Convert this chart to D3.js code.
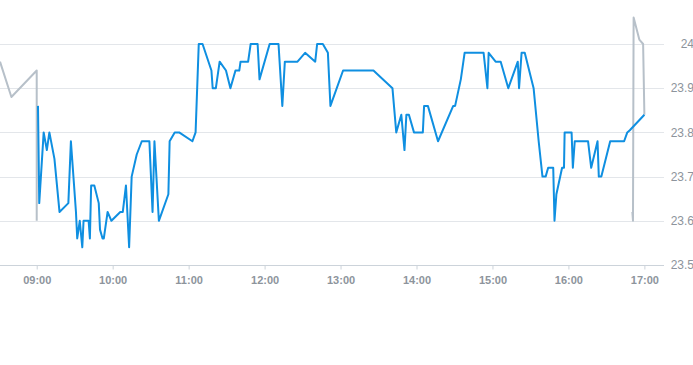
<!DOCTYPE html>
<html>
<head>
<meta charset="utf-8">
<script src="https://cdn.jsdelivr.net/npm/d3@7"></script>
<style>
  body { margin: 0; background: #fff; }
  svg { display: block; font-family: "Liberation Sans", Arial, sans-serif; }
</style>
</head>
<body>
<svg id="chart" width="693" height="365"></svg>
<script>
// pre-market and after-hours prints (grey)
const preTimes = ["08:31", "08:40", "09:00", "09:00"];
const preValues = [23.96, 23.88, 23.94, 23.60];
const postTimes = ["16:50.5", "16:51", "16:51.5", "16:56", "16:59", "17:00"];
const postValues = [23.62, 23.60, 24.06, 24.01, 24.00, 23.84];

// regular session (blue)
const sessionTimes = [
  "09:01", "09:02", "09:05.5", "09:08", "09:10", "09:14", "09:18", "09:25", "09:27", "09:31",
  "09:32", "09:34", "09:36", "09:37", "09:41", "09:42", "09:43", "09:45.5", "09:49", "09:50",
  "09:52", "09:53", "09:56", "09:59", "10:06", "10:08", "10:10.5", "10:13", "10:15", "10:19",
  "10:23", "10:29", "10:31.5", "10:33", "10:36.5", "10:44", "10:45", "10:49", "10:52.5", "11:03",
  "11:05.5", "11:08", "11:11", "11:18", "11:19", "11:21.5", "11:24.5", "11:29.5", "11:33", "11:37",
  "11:40", "11:41", "11:47", "11:49", "11:54.5", "11:56", "12:04", "12:11", "12:14", "12:16",
  "12:26", "12:32", "12:40", "12:41.5", "12:46", "12:50", "12:52", "13:02", "13:26", "13:41",
  "13:44", "13:48", "13:50.5", "13:52", "13:54", "13:58", "14:05", "14:06", "14:09", "14:17",
  "14:29", "14:30.5", "14:35", "14:36", "14:38", "14:53", "14:56", "14:57", "15:02.5", "15:06.5",
  "15:12.5", "15:20", "15:21", "15:23", "15:25.5", "15:32.5", "15:36.5", "15:39.5", "15:42", "15:44",
  "15:48", "15:49", "15:50.5", "15:55", "15:56.5", "15:57", "16:02.5", "16:03.5", "16:05", "16:15.5",
  "16:18", "16:23", "16:24", "16:26", "16:33", "16:44", "16:46.5", "16:48.5", "17:00"
];
const sessionValues = [
  23.86, 23.64, 23.80, 23.76, 23.80, 23.74, 23.62, 23.64, 23.78, 23.62,
  23.56, 23.60, 23.54, 23.60, 23.60, 23.56, 23.68, 23.68, 23.64, 23.58,
  23.56, 23.56, 23.62, 23.60, 23.62, 23.62, 23.68, 23.54, 23.70, 23.75,
  23.78, 23.78, 23.62, 23.78, 23.60, 23.66, 23.78, 23.80, 23.80, 23.78,
  23.80, 24.00, 24.00, 23.94, 23.90, 23.90, 23.96, 23.94, 23.90, 23.94,
  23.94, 23.96, 23.96, 24.00, 24.00, 23.92, 24.00, 24.00, 23.86, 23.96,
  23.96, 23.98, 23.96, 24.00, 24.00, 23.98, 23.86, 23.94, 23.94, 23.90,
  23.80, 23.84, 23.76, 23.84, 23.84, 23.80, 23.80, 23.86, 23.86, 23.78,
  23.86, 23.86, 23.92, 23.94, 23.98, 23.98, 23.90, 23.98, 23.96, 23.96,
  23.90, 23.96, 23.90, 23.98, 23.98, 23.90, 23.78, 23.70, 23.70, 23.72,
  23.72, 23.60, 23.66, 23.72, 23.72, 23.80, 23.80, 23.72, 23.78, 23.78,
  23.72, 23.78, 23.70, 23.70, 23.78, 23.78, 23.80, 23.805, 23.84
];

const yTicks = [23.5, 23.6, 23.7, 23.8, 23.9, 24];
const xTickHours = [9, 10, 11, 12, 13, 14, 15, 16, 17];

// "HH:MM(.5)" -> minutes since midnight
const toMin = (s) => {
  const [h, m] = s.split(":");
  return +h * 60 + parseFloat(m);
};
const pairs = (times, values) => times.map((t, i) => ({ t: toMin(t), v: values[i] }));

const svg = d3.select("#chart");
const plotRight = 664;
const x = d3.scaleLinear().domain([toMin("08:31"), toMin("17:15.5")]).range([0, plotRight]);
const y = d3.scaleLinear().domain([23.5, 24]).range([265, 44]);

// grid
svg.append("g")
  .selectAll("line")
  .data(yTicks)
  .join("line")
  .attr("x1", 0)
  .attr("x2", plotRight)
  .attr("y1", (d) => Math.round(y(d)) + 0.5)
  .attr("y2", (d) => Math.round(y(d)) + 0.5)
  .attr("stroke", (d) => (d === 23.5 ? "#ccd3da" : "#e3e6ea"))
  .attr("stroke-width", 1);

// y labels on the right (run slightly past the edge, as in the original)
svg.append("g")
  .selectAll("text")
  .data(yTicks)
  .join("text")
  .attr("x", 694)
  .attr("y", (d) => y(d))
  .attr("dy", "0.35em")
  .attr("text-anchor", "end")
  .attr("fill", "#8d949c")
  .attr("font-size", 12)
  .text((d) => d3.format("")(d));

// x axis ticks + labels
const xAxis = d3.axisBottom(x)
  .tickValues(xTickHours.map((h) => h * 60))
  .tickSize(4)
  .tickFormat((d) => d3.format("02")(d / 60) + ":00");

const gx = svg.append("g")
  .attr("transform", `translate(0,${Math.round(y(23.5)) + 0.5})`)
  .call(xAxis);
gx.select(".domain").remove();
gx.selectAll(".tick line").attr("stroke", "#ccd3da");
gx.selectAll(".tick text")
  .attr("fill", "#8d949c")
  .attr("font-size", 11)
  .attr("font-weight", "bold")
  .attr("font-family", "'Liberation Sans', Arial, sans-serif")
  .attr("dy", "1.05em");

// lines
svg.append("clipPath").attr("id", "plot-clip")
  .append("rect").attr("x", 0).attr("y", 0).attr("width", plotRight).attr("height", 270);

const line = d3.line().x((d) => x(d.t)).y((d) => y(d.v));
const plot = svg.append("g").attr("clip-path", "url(#plot-clip)");

[pairs(preTimes, preValues), pairs(postTimes, postValues)].forEach((data) => {
  plot.append("path")
    .datum(data)
    .attr("d", line)
    .attr("fill", "none")
    .attr("stroke", "#b7c0c9")
    .attr("stroke-width", 2)
    .attr("stroke-linejoin", "round");
});

plot.append("path")
  .datum(pairs(sessionTimes, sessionValues))
  .attr("d", line)
  .attr("fill", "none")
  .attr("stroke", "#0f8fe1")
  .attr("stroke-width", 2)
  .attr("stroke-linejoin", "round");
</script>
</body>
</html>
